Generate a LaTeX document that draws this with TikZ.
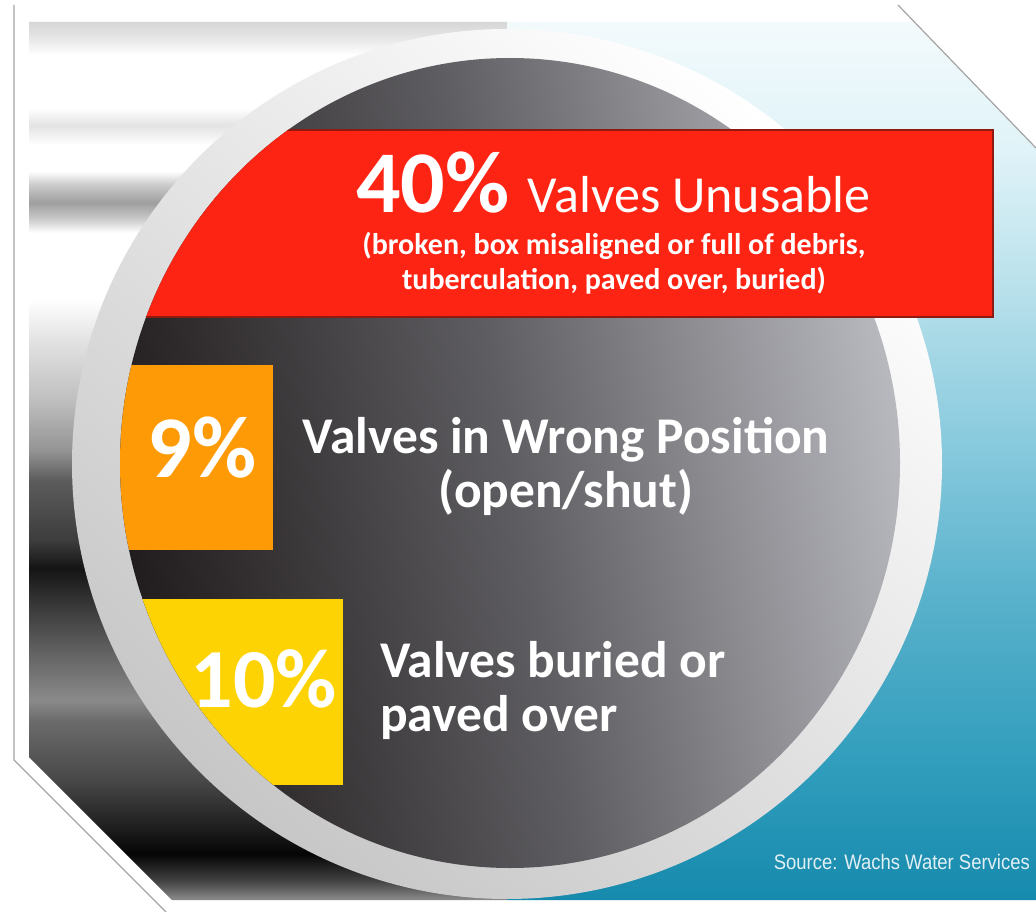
\documentclass[tikz,border=0pt]{standalone}
\usepackage{fontspec}
\setmainfont{Carlito}
\newfontfamily\srcfont{Liberation Sans}
\definecolor{valvered}{HTML}{FE2414}
\definecolor{valvereddark}{HTML}{8E1A12}
\definecolor{valveorange}{HTML}{FE9A06}
\definecolor{valveyellow}{HTML}{FED304}
\definecolor{diskdark}{HTML}{211C1D}
\definecolor{diskmid}{HTML}{5E5D61}
\definecolor{disklight}{HTML}{B8B9BF}
\definecolor{framegray}{HTML}{A4A4A4}
\definecolor{sourcecol}{HTML}{E2F0F5}
\definecolor{waterA}{HTML}{F3FAFC}
\definecolor{waterB}{HTML}{E0F3F8}
\definecolor{waterC}{HTML}{B5DFEA}
\definecolor{waterD}{HTML}{86C9DD}
\definecolor{waterE}{HTML}{58B1CB}
\definecolor{waterF}{HTML}{349FBE}
\definecolor{waterG}{HTML}{168AAD}
% metal pipe bands, 25bp = bottom edge, 75bp = top edge
\pgfdeclareverticalshading{pipeshade}{100bp}{color(0bp)=(black!45); color(25bp)=(black!45);
  color(26.1bp)=(black!74); color(27.6bp)=(black!98); color(29bp)=(black!89);
  color(31.8bp)=(black!72); color(35.2bp)=(black!58); color(36.4bp)=(black!46);
  color(39.2bp)=(black!62); color(42.6bp)=(black!83); color(43.9bp)=(black!92);
  color(45.5bp)=(black!76); color(48.9bp)=(black!64); color(50.6bp)=(black!42);
  color(53.5bp)=(black!25); color(56.9bp)=(black!11); color(59.2bp)=(white);
  color(63bp)=(white); color(63.8bp)=(black!21); color(64.7bp)=(black!38);
  color(65.7bp)=(black!21); color(66.5bp)=(white); color(68bp)=(white);
  color(69.1bp)=(black!11); color(70.1bp)=(white); color(73.1bp)=(white);
  color(74bp)=(black!9); color(75bp)=(black!16); color(100bp)=(black!16)}
\pgfdeclareverticalshading{watershade}{100bp}{color(0bp)=(waterG); color(25bp)=(waterG);
  color(33.5bp)=(waterF); color(42.1bp)=(waterE); color(50.6bp)=(waterD);
  color(59.2bp)=(waterC); color(67.7bp)=(waterB); color(75bp)=(waterA); color(100bp)=(waterA)}
\tikzset{
  pct/.style={text=white, inner sep=0pt, font=\bfseries\fontsize{88}{88}\selectfont},
  head/.style={text=white, inner sep=0pt, font=\fontsize{52}{52}\selectfont},
  sub/.style={text=white, inner sep=0pt, align=center, font=\bfseries\fontsize{30}{35}\selectfont},
  txt/.style={text=white, inner sep=0pt, font=\bfseries\fontsize{51.5}{54}\selectfont},
  src/.style={text=sourcecol, inner sep=0pt, xscale=0.88, font=\srcfont\fontsize{21}{21}\selectfont}
}
\begin{document}
\begin{tikzpicture}[x=1pt,y=-1pt]
\useasboundingbox[fill=white] (0,0) rectangle (1036,912);
\begin{scope}
  \clip (29,22) -- (915,22) -- (1036,148) -- (1036,900) -- (172,900) -- (29,757) -- cycle;
  \shade[shading=pipeshade] (29,22) rectangle (507,900);
  \shade[shading=watershade] (507,22) rectangle (1036,900);
  \shade[top color=white, middle color=white, bottom color=black!22, shading angle=-40] (507,464) circle[radius=435];
  \shade[left color=diskdark, right color=disklight, middle color=diskmid, shading angle=100]
    (510,463) ellipse[x radius=390, y radius=405];
\end{scope}
\begin{scope}
  \clip (510,58) arc[start angle=-90, end angle=-270, x radius=390, y radius=405]
    -- (1036,868) -- (1036,58) -- cycle;
  \filldraw[fill=valvered, draw=valvereddark, line width=1.5pt] (100,130) rectangle (993,317);
  \fill[valveorange] (100,365) rectangle (273,550);
  \fill[valveyellow] (100,599) rectangle (343,785);
\end{scope}
\node[pct, anchor=base west] (pct40) at (356,213) {40\%};
\node[head, anchor=base west] (unusable) at ([xshift=18pt]pct40.base east) {Valves Unusable};
\node[sub, anchor=base] (debris) at (614,289) {(broken, box misaligned or full of debris,\\tuberculation, paved over, buried)};
\node[pct, anchor=base] (pct9) at (202,477) {9\%};
\node[txt, anchor=base, align=center] (wrongpos) at (566,507) {Valves in Wrong Position\\(open/shut)};
\node[pct, anchor=base, font=\bfseries\fontsize{84}{84}\selectfont] (pct10) at (264,707) {10\%};
\node[txt, anchor=base west, align=left] (buried) at (380,731) {Valves buried or\\paved over};
\node[src, anchor=base east] (source) at (1030,869) {Source: Wachs Water Services};
% frame
\draw[framegray, line width=1.2pt] (14,5) -- (14,760) -- (166,912);
\draw[framegray, line width=1.2pt] (898,5) -- (1036,148);
\end{tikzpicture}
\end{document}
